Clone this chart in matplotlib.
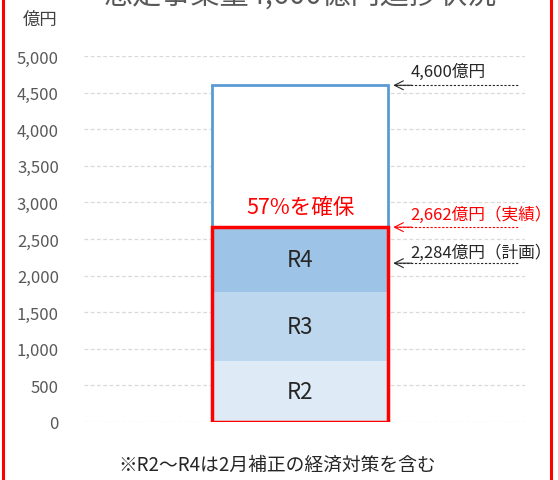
import matplotlib.pyplot as plt
from matplotlib.patches import Rectangle

plt.rcParams['font.family'] = ['Noto Sans CJK JP', 'DejaVu Sans']

# stacked segments (億円)
segments = ['R2', 'R3', 'R4']
seg_values = [837, 935, 890]
seg_colors = ['#DEEBF7', '#BDD7EE', '#9DC3E6']

target = 4600
actual = sum(seg_values)   # 2,662
plan = 2284

yticks = [0, 500, 1000, 1500, 2000, 2500, 3000, 3500, 4000, 4500, 5000]
title = '想定事業量4,600億円進捗状況'
note = '※R2～R4は2月補正の経済対策を含む'

fig = plt.figure(figsize=(5.58, 4.81), dpi=100)
ax = fig.add_axes([0.1505, 0.1206, 0.7903, 0.7609])

bw = 0.40
# target outline
ax.bar(0, target, width=bw, color='white', edgecolor='#5B9BD5', linewidth=2, zorder=2)

bottom = 0
for name, v, c in zip(segments, seg_values, seg_colors):
    ax.bar(0, v, bottom=bottom, width=bw, color=c, edgecolor='none', zorder=3)
    ax.text(0, bottom + v / 2, name, ha='center', va='center', fontsize=16,
            color='#262626', zorder=5)
    bottom += v

# red frame round the achieved part
ax.bar(0, actual, width=bw, color='none', edgecolor='#FF0000', linewidth=2.5, zorder=4)

ax.text(0, actual + 280, '57%を確保', ha='center', va='center', fontsize=15.5,
        color='#FF0000', zorder=5)

ax.set_xlim(-0.49, 0.51)
ax.set_ylim(0, 5000)
ax.set_xticks([])
ax.set_yticks(yticks)
ax.set_yticklabels([f'{t:,}' for t in yticks])
ax.tick_params(axis='y', length=0, pad=18, labelsize=12, labelcolor='#595959')
for s in ax.spines.values():
    s.set_visible(False)
ax.yaxis.grid(True, color='#D9D9D9', linestyle=(0, (3, 2)), linewidth=0.9)
ax.set_axisbelow(True)

# callouts
callouts = [
    (target, 4600 + 190, '4,600億円', '#262626'),
    (actual, actual + 170, '2,662億円（実績）', '#FF0000'),
    (2170, 2170 + 150, '2,284億円（計画）', '#262626'),
]
for y, ty, label, col in callouts:
    ax.plot([0.215, 0.495], [y, y], color=col, linestyle=(0, (2, 1.5)),
            linewidth=0.8, zorder=6, clip_on=False)
    ax.annotate('', xy=(0.205, y), xytext=(0.26, y),
                arrowprops=dict(arrowstyle='->', color=col, lw=0.8,
                                mutation_scale=16), zorder=6)
    ax.text(0.25, ty, label, ha='left', va='center', fontsize=12, color=col)

fig.text(40 / 558, 1 - 20 / 481, '億円', ha='center', va='center', fontsize=12.5,
         color='#404040')
fig.text(300 / 558, 1 + 3 / 481, title, ha='center', va='center', fontsize=21,
         color='#595959')
fig.text(277 / 558, 1 - 465 / 481, note, ha='center', va='center', fontsize=13.5,
         color='#262626')

fig.patches.append(Rectangle((2.5 / 558, -0.02), 548 / 558, 1.04,
                             transform=fig.transFigure, fill=False,
                             edgecolor='#FF0000', linewidth=2.2))

fig.savefig('out.png', dpi=100)
